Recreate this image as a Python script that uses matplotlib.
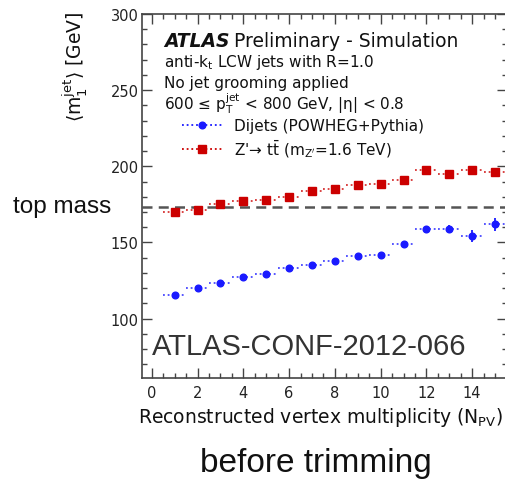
import numpy as np
import matplotlib
matplotlib.use("Agg")
import matplotlib.pyplot as plt
from matplotlib.lines import Line2D
from matplotlib.ticker import MultipleLocator

# mean leading-jet mass vs number of primary vertices
npv = np.arange(1, 16)
zprime_mass = [170.3, 171.6, 175.4, 177.1, 178.2, 180.1, 183.6, 185.4,
               187.8, 188.7, 190.8, 197.8, 195.0, 197.8, 196.3]
zprime_err = [1.0, 1.0, 1.0, 1.0, 1.0, 1.0, 1.0, 1.0,
              1.0, 1.0, 1.0, 1.2, 1.5, 1.5, 2.5]
dijet_mass = [115.7, 120.3, 123.1, 127.0, 129.0, 133.1, 135.0, 138.1,
              141.4, 142.0, 149.0, 158.8, 159.0, 154.0, 161.8]
dijet_err = [0.8, 0.8, 0.8, 0.8, 0.8, 0.8, 0.8, 0.9,
             0.9, 1.0, 1.2, 2.0, 2.5, 4.0, 4.0]
bin_half = 0.5
top_mass = 173.5

red = '#cc0000'
blue = '#1a1aff'
body_font = 'DejaVu Sans'
note_font = 'Liberation Sans'

plt.rcParams['font.family'] = body_font
plt.rcParams['mathtext.fontset'] = 'dejavusans'

W, H = 505, 481
fig = plt.figure(figsize=(W / 100, H / 100), dpi=100)
x0, x1, y0, y1 = 141.5, 506.5, 15, 379
ax = fig.add_axes([x0 / W, 1 - y1 / H, (x1 - x0) / W, (y1 - y0) / H])

ax.set_xlim(-0.45, 15.5)
ax.set_ylim(61, 300)

ax.axhline(top_mass, color='#555555', lw=1.8, ls=(0, (4, 2.5)), zorder=1)

def draw_series(x, y, err, color, marker, ms):
    x = np.asarray(x, dtype=float)
    y = np.asarray(y, dtype=float)
    err = np.asarray(err, dtype=float)
    ax.hlines(y, x - bin_half, x + bin_half, colors=color, lw=1.3,
              linestyles=(0, (1, 1.6)), alpha=0.8, zorder=2)
    ax.vlines(x, y - err, y + err, colors=color, lw=1.3, zorder=2)
    ax.plot(x, y, ls='none', marker=marker, ms=ms, color=color,
            mec=color, zorder=3)

draw_series(npv, zprime_mass, zprime_err, red, 's', 5.5)
draw_series(npv, dijet_mass, dijet_err, blue, 'o', 4.8)

ax.xaxis.set_major_locator(MultipleLocator(2))
ax.xaxis.set_minor_locator(MultipleLocator(0.5))
ax.yaxis.set_major_locator(MultipleLocator(50))
ax.yaxis.set_minor_locator(MultipleLocator(10))
ax.tick_params(which='both', direction='in', top=True, right=True,
               color='#444444', width=1.0)
ax.tick_params(which='major', length=7)
ax.tick_params(which='minor', length=3.5)
ax.tick_params(axis='y', pad=2, labelsize=10.5, labelcolor='#222222')
ax.tick_params(axis='x', pad=5, labelsize=10.5, labelcolor='#222222')
for s in ax.spines.values():
    s.set_color('#444444')
    s.set_linewidth(1.2)

def fx(px):
    return px / W

def fy(py):
    return 1 - py / H

fig.text(fx(503), fy(423), r'Reconstructed vertex multiplicity (N$_{\mathrm{PV}}$)',
         ha='right', va='baseline', fontsize=13.5, color='#111111')
fig.text(fx(75), fy(12), r'$\langle\mathrm{m}_{1}^{\mathrm{jet}}\rangle$ [GeV]',
         rotation=90, ha='center', va='top', fontsize=13.5, color='#111111')

# ATLAS label block
t = fig.text(fx(164), fy(47), 'ATLAS', fontsize=13.5, fontweight='bold',
             fontstyle='italic', va='baseline', color='#111111')
fig.canvas.draw()
bb = t.get_window_extent()
fig.text(bb.x1 / W + fx(5), fy(47), 'Preliminary - Simulation', fontsize=13.5,
         va='baseline', color='#111111')
fig.text(fx(164), fy(67), r'anti-k$_{\mathrm{t}}$ LCW jets with R=1.0',
         fontsize=11, va='baseline', color='#111111')
fig.text(fx(164), fy(88), 'No jet grooming applied',
         fontsize=11, va='baseline', color='#111111')
fig.text(fx(164), fy(110),
         r'600 ≤ p$_{\mathrm{T}}^{\mathrm{jet}}$ < 800 GeV, |η| < 0.8',
         fontsize=11, va='baseline', color='#111111')

handles = [
    Line2D([], [], color=blue, ls=(0, (1, 1.6)), lw=1.3, marker='o', ms=4.8),
    Line2D([], [], color=red, ls=(0, (1, 1.6)), lw=1.3, marker='s', ms=5.5),
]
labels = ['Dijets (POWHEG+Pythia)',
          r"Z'→ t$\bar{\mathrm{t}}$ (m$_{\mathrm{Z'}}$=1.6 TeV)"]
fig.legend(handles, labels, loc='upper left',
           bbox_to_anchor=(fx(182), fy(119)), frameon=False, fontsize=11,
           handlelength=2.6, handletextpad=0.8, borderpad=0, borderaxespad=0,
           labelspacing=0.3, labelcolor='#111111')

# annotations on the slide
fig.text(fx(13), fy(207), 'top mass', family=note_font, fontsize=17.5,
         ha='left', va='center', color='#111111')
fig.text(fx(152), fy(347), 'ATLAS-CONF-2012-066', family=note_font,
         fontsize=21, ha='left', va='center', color='#333333')
fig.text(fx(316), fy(472), 'before trimming', family=note_font,
         fontsize=24, ha='center', va='baseline', color='#111111')

fig.savefig('out.png', dpi=100)
